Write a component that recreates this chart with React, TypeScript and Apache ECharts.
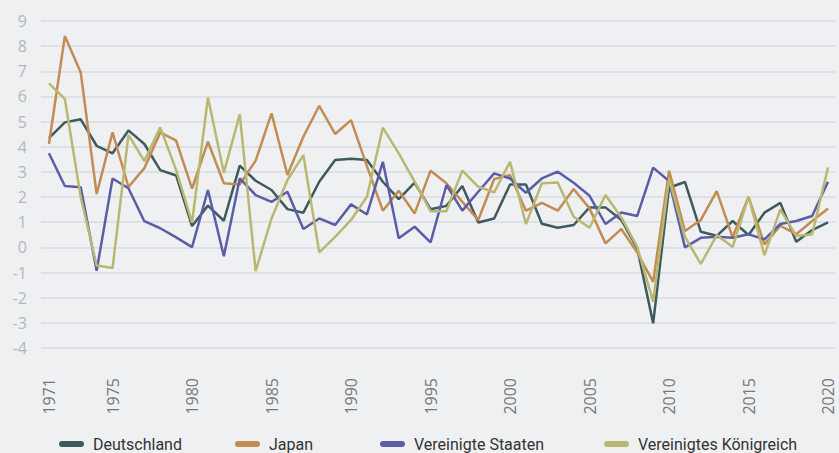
import React, { useEffect, useRef } from "react";
import * as echarts from "echarts";

const years: string[] = Array.from({ length: 50 }, (_, i) => String(1971 + i));

const deutschland = [
  4.34, 4.97, 5.09, 4.04, 3.74, 4.65, 4.11, 3.07, 2.86, 0.85,
  1.66, 1.06, 3.25, 2.65, 2.28, 1.52, 1.38, 2.61, 3.47, 3.52,
  3.47, 2.61, 1.92, 2.57, 1.52, 1.65, 2.44, 0.99, 1.15, 2.5,
  2.5, 0.94, 0.78, 0.89, 1.59, 1.59, 1.09, -0.04, -3.02, 2.37,
  2.6, 0.62, 0.46, 1.05, 0.49, 1.38, 1.77, 0.22, 0.69, 0.99,
];
const japan = [
  4.11, 8.4, 6.95, 2.12, 4.57, 2.4, 3.15, 4.57, 4.24, 2.34,
  4.2, 2.55, 2.5, 3.45, 5.33, 2.88, 4.4, 5.63, 4.51, 5.06,
  3.23, 1.46, 2.25, 1.35, 3.05, 2.55, 1.81, 1.09, 2.72, 2.88,
  1.46, 1.77, 1.46, 2.32, 1.55, 0.16, 0.73, -0.21, -1.37, 3.05,
  0.65, 1.09, 2.24, 0.4, 2.01, 0.12, 0.86, 0.52, 1.05, 1.55,
];
const vereinigteStaaten = [
  3.74, 2.44, 2.39, -0.93, 2.74, 2.35, 1.04, 0.76, 0.4, 0.01,
  2.28, -0.35, 2.74, 2.08, 1.81, 2.21, 0.73, 1.15, 0.89, 1.71,
  1.31, 3.4, 0.36, 0.82, 0.2, 2.48, 1.46, 2.21, 2.94, 2.74,
  2.17, 2.74, 3.01, 2.57, 2.05, 0.93, 1.39, 1.25, 3.17, 2.64,
  0.0, 0.38, 0.42, 0.38, 0.52, 0.32, 0.93, 1.05, 1.25, 2.61,
];
const vereinigtesKoenigreich = [
  6.52, 5.9, 2.0, -0.72, -0.82, 4.47, 3.43, 4.77, 3.07, 0.98,
  5.96, 2.97, 5.29, -0.94, 1.15, 2.68, 3.67, -0.2, 0.42, 1.09,
  2.01, 4.76, 3.74, 2.61, 1.44, 1.44, 3.05, 2.41, 2.19, 3.4,
  0.93, 2.55, 2.58, 1.22, 0.78, 2.08, 1.19, 0.02, -2.16, 2.74,
  0.42, -0.66, 0.49, 0.02, 2.01, -0.31, 1.51, 0.45, 0.52, 3.18,
];

const seriesNames = ["Deutschland", "Japan", "Vereinigte Staaten", "Vereinigtes Königreich"];
const seriesColors = ["#3e5a5e", "#c28c54", "#5b5ea6", "#b9b872"];
const seriesData = [deutschland, japan, vereinigteStaaten, vereinigtesKoenigreich];
const legendLefts = [59, 235, 380, 604];

const stadium = "path://M3,0 L22,0 A3,3 0 0 1 22,6 L3,6 A3,3 0 0 1 3,0 Z";

export default function App() {
  const ref = useRef<HTMLDivElement>(null);
  useEffect(() => {
    if (!ref.current) return;
    const chart = echarts.init(ref.current, undefined, { renderer: "svg" });
    chart.setOption({
      animation: false,
      backgroundColor: "#eff0f2",
      grid: { left: 41, right: 3, top: 21, bottom: 105, containLabel: false },
      xAxis: {
        type: "category",
        data: years,
        boundaryGap: true,
        axisLine: { show: false },
        axisTick: { show: false },
        splitLine: { show: false },
        axisLabel: {
          rotate: 90,
          margin: 30,
          interval: (index: number, value: string) => index === 0 || Number(value) % 5 === 0,
          color: "#74787c",
          fontSize: 16,
          lineHeight: 12,
          fontFamily: "'Open Sans', sans-serif",
        },
      },
      yAxis: {
        type: "value",
        min: -4,
        max: 9,
        interval: 1,
        axisLine: { show: false },
        axisTick: { show: false },
        splitLine: { lineStyle: { color: "#dadbde", width: 1.5 } },
        axisLabel: {
          margin: 14,
          color: "#b3b7bb",
          fontSize: 16,
          fontFamily: "'Open Sans', sans-serif",
        },
      },
      legend: seriesNames.map((name, i) => ({
        data: [name],
        left: legendLefts[i],
        top: 435,
        icon: stadium,
        itemWidth: 25,
        itemHeight: 6,
        itemGap: 0,
        padding: 0,
        textStyle: {
          color: "#333333",
          fontSize: 16,
          lineHeight: 18,
          padding: [0, 0, 0, 4],
          fontFamily: "Roboto, sans-serif",
        },
      })),
      series: seriesNames.map((name, i) => ({
        name,
        type: "line",
        data: seriesData[i],
        symbol: "none",
        lineStyle: { color: seriesColors[i], width: 2.5 },
        itemStyle: { color: seriesColors[i] },
      })),
    });
    return () => chart.dispose();
  }, []);
  return (
    <div
      ref={ref}
      style={{ position: "fixed", left: 0, top: 0, width: 839, height: 453 }}
    />
  );
}
